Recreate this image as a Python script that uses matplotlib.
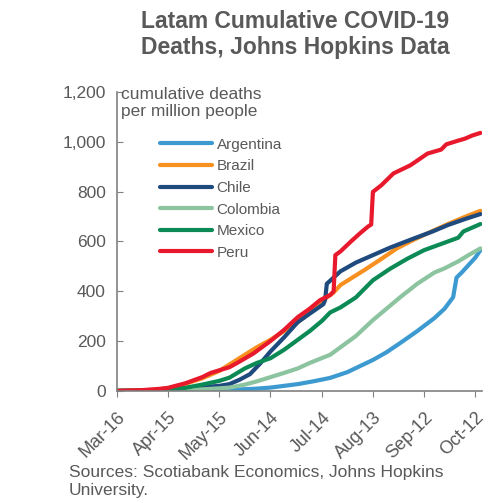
import matplotlib.pyplot as plt
from matplotlib.ticker import FuncFormatter

plt.rcParams['font.family'] = ['Liberation Sans', 'DejaVu Sans']

# days since Mar-16, cumulative deaths per million
peru_days = [0, 5, 15, 25, 30, 40, 50, 55, 66, 72, 80, 90, 98, 106, 113, 119, 125, 127,
             128, 131, 137, 142, 147, 149, 150, 155, 162, 172, 182, 190, 193, 200, 204, 208, 213]
peru_vals = [0, 1, 3, 8, 12, 30, 55, 72, 95, 118, 150, 200, 245, 296, 330, 364, 385, 400,
             545, 560, 599, 630, 659, 668, 799, 826, 873, 906, 953, 969, 990, 1005, 1013, 1025, 1036]

chile_days = [0, 20, 30, 40, 50, 60, 66, 72, 78, 84, 90, 98, 106, 113, 121, 122,
              123, 127, 131, 140, 150, 160, 174, 185, 194, 204, 213]
chile_vals = [0, 1, 3, 8, 15, 20, 27, 45, 67, 110, 158, 215, 276, 310, 348, 365,
              430, 455, 480, 515, 545, 575, 612, 640, 666, 690, 710]

brazil_days = [0, 10, 20, 30, 40, 50, 60, 66, 75, 82, 90, 98, 106, 113, 120, 127,
               131, 138, 145, 155, 164, 174, 184, 194, 204, 213]
brazil_vals = [0, 1, 3, 10, 28, 50, 80, 106, 145, 175, 205, 240, 276, 315, 360, 395,
               425, 455, 485, 530, 572, 607, 639, 670, 699, 723]

mexico_days = [0, 20, 30, 40, 50, 60, 66, 75, 82, 90, 98, 106, 113, 120, 125, 131,
               140, 150, 160, 170, 180, 190, 198, 200, 203, 208, 213]
mexico_vals = [0, 1, 4, 12, 25, 40, 53, 90, 112, 131, 165, 205, 240, 280, 315, 335,
               375, 444, 490, 530, 565, 590, 610, 615, 640, 655, 670]

colombia_days = [0, 30, 40, 50, 60, 66, 75, 82, 90, 98, 106, 113, 125, 131, 140, 150,
                 158, 166, 176, 186, 192, 200, 206, 213]
colombia_vals = [0, 1, 3, 6, 10, 13, 25, 38, 55, 72, 90, 112, 145, 175, 220, 284,
                 330, 376, 430, 475, 492, 520, 545, 572]

argentina_days = [0, 30, 50, 66, 80, 90, 106, 115, 125, 135, 150, 158, 166, 176, 186,
                  192, 197, 199, 202, 206, 210, 213]
argentina_vals = [0, 0.5, 2, 4, 8, 13, 27, 38, 52, 75, 124, 155, 192, 240, 292,
                  330, 376, 455, 475, 505, 535, 565]

countries = ["Argentina", "Brazil", "Chile", "Colombia", "Mexico", "Peru"]
colors = ["#3D9AD1", "#F7901E", "#1F4A7E", "#8CC4A0", "#0B8A55", "#E8192C"]
series = [(argentina_days, argentina_vals), (brazil_days, brazil_vals),
          (chile_days, chile_vals), (colombia_days, colombia_vals),
          (mexico_days, mexico_vals), (peru_days, peru_vals)]

tick_days = [0, 30, 60, 90, 120, 150, 180, 210]
tick_labels = ["Mar-16", "Apr-15", "May-15", "Jun-14", "Jul-14", "Aug-13", "Sep-12", "Oct-12"]

grey = "#595959"
spine = "#808080"

fig = plt.figure(figsize=(4.93, 5.03), dpi=100)
ax = fig.add_axes([0.237, 0.223, 0.741, 0.594])

for name, col, (d, v) in zip(countries, colors, series):
    ax.plot(d, v, color=col, lw=3.0, label=name, solid_capstyle='round')

ax.set_xlim(0, 214)
ax.set_ylim(0, 1200)
ax.set_yticks(range(0, 1201, 200))
ax.yaxis.set_major_formatter(FuncFormatter(lambda y, p: f"{int(y):,}"))
ax.set_xticks(tick_days)
ax.set_xticklabels(tick_labels, rotation=45, ha='right', rotation_mode='anchor')

for s in ["top", "right"]:
    ax.spines[s].set_visible(False)
for s in ["left", "bottom"]:
    ax.spines[s].set_color(spine)
    ax.spines[s].set_linewidth(1.2)

ax.tick_params(axis='y', direction='in', length=4, color=spine, labelsize=12.5,
               labelcolor=grey, pad=8)
ax.tick_params(axis='x', direction='out', length=4, color=spine, labelsize=13,
               labelcolor=grey, pad=9)

leg = ax.legend(loc='upper left', bbox_to_anchor=(0.102, 0.868), frameon=False,
                fontsize=11, handlelength=3.4, handletextpad=0.3, labelspacing=0.5,
                borderaxespad=0)
for t in leg.get_texts():
    t.set_color(grey)

fig.text(0.598, 0.98, "Latam Cumulative COVID-19\nDeaths, Johns Hopkins Data",
         ha='center', va='top', fontsize=16.5, fontweight='bold', color=grey,
         linespacing=1.15)
fig.text(0.245, 0.795, "cumulative deaths\nper million people", ha='left', va='center',
         fontsize=12.5, color=grey, linespacing=1.2)
fig.text(0.14, 0.042, "Sources: Scotiabank Economics, Johns Hopkins\nUniversity.",
         ha='left', va='center', fontsize=12.5, color=grey, linespacing=1.25)

fig.savefig("out.png", dpi=100)
